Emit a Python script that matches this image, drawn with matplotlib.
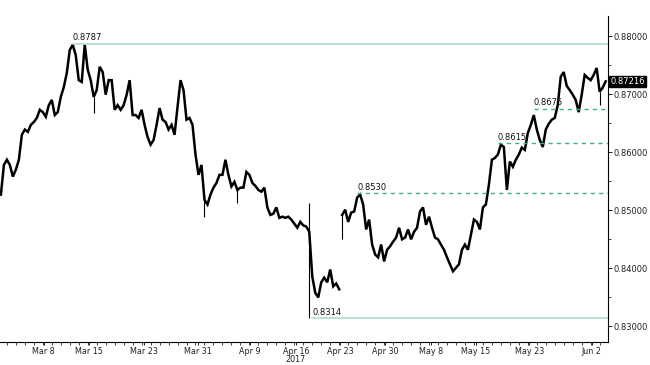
import numpy as np
import matplotlib
matplotlib.use('Agg')
import matplotlib.pyplot as plt

# 8-hour closes (gap in the feed after bar 113)
closes = [
    0.8527, 0.8578, 0.8587, 0.8578, 0.8558, 0.8570, 0.8587, 0.8630, 0.8639, 0.8635,
    0.8647, 0.8652, 0.8659, 0.8673, 0.8669, 0.8661, 0.8681, 0.8690, 0.8664, 0.8669,
    0.8695, 0.8712, 0.8736, 0.8776, 0.8785, 0.8767, 0.8724, 0.8721, 0.8785, 0.8742,
    0.8724, 0.8695, 0.8707, 0.8747, 0.8738, 0.8699, 0.8724, 0.8724, 0.8673, 0.8681,
    0.8673, 0.8681, 0.8699, 0.8724, 0.8664, 0.8664, 0.8659, 0.8673, 0.8647, 0.8626,
    0.8613, 0.8621, 0.8647, 0.8676, 0.8656, 0.8652, 0.8639, 0.8647, 0.8630, 0.8678,
    0.8724, 0.8707, 0.8656, 0.8659, 0.8647, 0.8596, 0.8561, 0.8578, 0.8518, 0.8510,
    0.8527, 0.8539, 0.8547, 0.8561, 0.8561, 0.8587, 0.8561, 0.8541, 0.8549, 0.8535,
    0.8539, 0.8539, 0.8566, 0.8561, 0.8547, 0.8542, 0.8535, 0.8532, 0.8539, 0.8505,
    0.8492, 0.8494, 0.8505, 0.8487, 0.8489, 0.8487, 0.8489, 0.8484, 0.8477, 0.8470,
    0.8480, 0.8474, 0.8472, 0.8463, 0.8386, 0.8358, 0.8350, 0.8376, 0.8384, 0.8376,
    0.8398, 0.8369, 0.8374, 0.8364,
    0.8492, 0.8501, 0.8480, 0.8496, 0.8498, 0.8522, 0.8527, 0.8510, 0.8467, 0.8484,
    0.8441, 0.8424, 0.8419, 0.8441, 0.8412, 0.8432, 0.8438, 0.8446, 0.8453, 0.8470,
    0.8450, 0.8453, 0.8467, 0.8450, 0.8463, 0.8470, 0.8498, 0.8505, 0.8475, 0.8489,
    0.8470, 0.8453, 0.8450, 0.8441, 0.8432, 0.8419, 0.8407, 0.8395, 0.8401, 0.8407,
    0.8432, 0.8441, 0.8432, 0.8458, 0.8484, 0.8480, 0.8467, 0.8505, 0.8510, 0.8544,
    0.8587, 0.8590, 0.8596, 0.8613, 0.8609, 0.8535, 0.8584, 0.8575, 0.8587, 0.8596,
    0.8608, 0.8604, 0.8633, 0.8647, 0.8664, 0.8639, 0.8621, 0.8609, 0.8639, 0.8649,
    0.8656, 0.8659, 0.8681, 0.8730, 0.8738, 0.8714, 0.8707, 0.8699, 0.8690, 0.8669,
    0.8699, 0.8733, 0.8728, 0.8724, 0.8733, 0.8745, 0.8704, 0.8711, 0.8722,
]
gap_after = 113
last_price = 0.87216

# long wicks visible on the chart
wick_bar = [31, 68, 79, 103, 114, 200]
wick_low = [0.8668, 0.8489, 0.8513, 0.8314, 0.8450, 0.8681]
wick_high = [0.8695, 0.8518, 0.8535, 0.8513, 0.8492, 0.8704]

# marked levels and the bar each one starts from
levels = [0.8787, 0.8675, 0.8615, 0.8530, 0.8314]
level_bar = [24, 178, 166, 119, 104]
level_dashed = [False, True, True, True, False]

tick_bars = [14.3, 29.3, 47.7, 65.7, 83.3, 98.5, 113.3, 128.3, 143.6, 158.6, 176.5, 197.3]
tick_labels = ['Mar 8', 'Mar 15', 'Mar 23', 'Mar 31', 'Apr 9', 'Apr 16\n2017', 'Apr 23',
               'Apr 30', 'May 8', 'May 15', 'May 23', 'Jun 2']
price_ticks = [0.83, 0.84, 0.85, 0.86, 0.87, 0.88]

plt.rcParams['font.family'] = ['Liberation Sans Narrow', 'DejaVu Sans']

fig = plt.figure(figsize=(6.5, 3.65), dpi=100)
ax = fig.add_axes([0.0, 0.062, 0.935, 0.894])

x = np.arange(len(closes))
c = np.array(closes)
ax.plot(x[:gap_after + 1], c[:gap_after + 1], color='black', lw=1.8, solid_joinstyle='miter')
ax.plot(x[gap_after + 1:], c[gap_after + 1:], color='black', lw=1.8, solid_joinstyle='miter')
ax.vlines(wick_bar, wick_low, wick_high, color='black', lw=0.8)

xmax = 202.7
for lv, b, dashed in zip(levels, level_bar, level_dashed):
    if dashed:
        ax.plot([b, xmax], [lv, lv], color='#3fae8a', lw=1.0, dashes=(3, 3))
    else:
        ax.plot([b, xmax], [lv, lv], color='#a6dccb', lw=1.1)
    ax.text(b, lv + 0.0002, f'{lv:.4f}', fontsize=6, color='#111111', ha='left', va='bottom')

ax.set_xlim(-0.3, xmax)
ax.set_ylim(0.82726, 0.88344)

ax.spines['top'].set_visible(False)
ax.spines['left'].set_visible(False)
ax.spines['right'].set_linewidth(0.8)
ax.spines['bottom'].set_linewidth(0.8)

ax.yaxis.tick_right()
ax.set_yticks(price_ticks)
ax.set_yticklabels([f'{p:.5f}' for p in price_ticks])
ax.set_yticks([0.835, 0.845, 0.855, 0.865, 0.875], minor=True)
ax.set_xticks(tick_bars)
ax.set_xticklabels(tick_labels, linespacing=0.85)
ax.set_xticks(np.arange(2, 203, 3), minor=True)
ax.tick_params(axis='y', which='major', labelsize=6, length=3, width=0.7, pad=1.5, colors='#222222')
ax.tick_params(axis='x', which='major', labelsize=5.8, length=2.5, width=0.7, pad=0.8, colors='#222222')
ax.tick_params(axis='both', which='minor', length=1.8, width=0.6, colors='#222222')

ax.text(1.004, last_price, f'{last_price:.5f}', transform=ax.get_yaxis_transform(),
        fontsize=6, color='white', ha='left', va='center',
        bbox=dict(boxstyle='square,pad=0.15', fc='black', ec='black'))

fig.savefig('out.png', dpi=100)
